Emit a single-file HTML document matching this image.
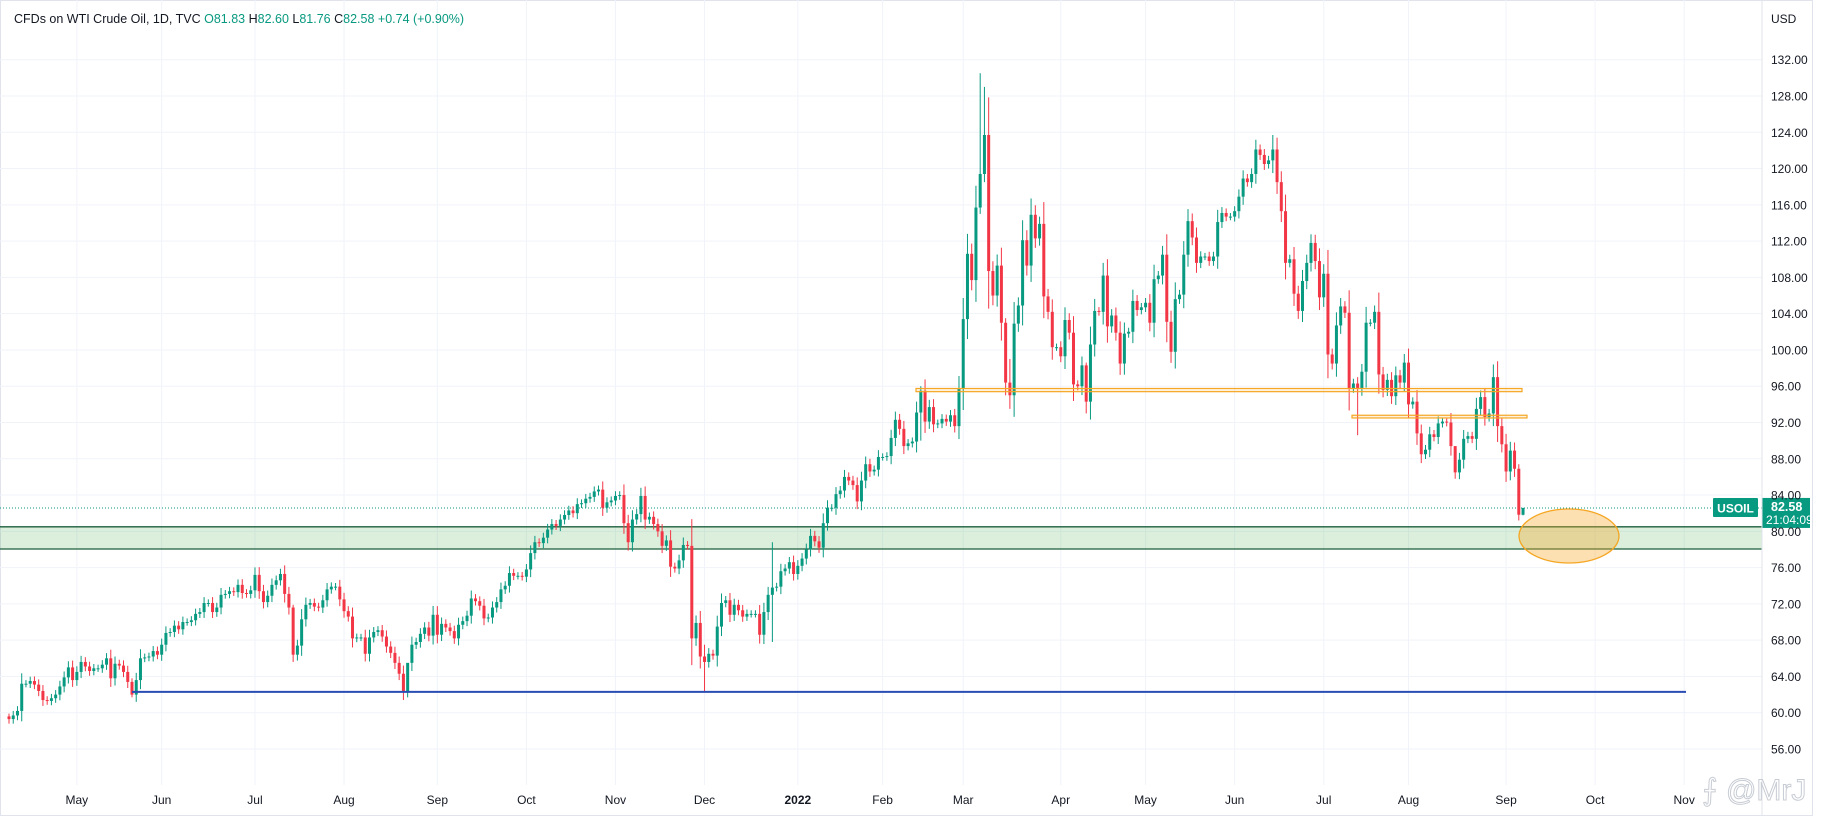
<!DOCTYPE html>
<html><head><meta charset="utf-8"><style>
html,body{margin:0;padding:0;background:#fff;}
svg{display:block;font-family:"Liberation Sans",sans-serif;}
</style></head><body>
<svg id="chart" width="1827" height="816" viewBox="0 0 1827 816">
<rect x="0.5" y="0.5" width="1812" height="815" fill="#fff" stroke="#e0e3eb"/>
<g id="grid"></g>
<g id="bands"></g>
<g id="candles"></g>
<g id="overlay"></g>
<line x1="1762" y1="0" x2="1762" y2="816" stroke="#e0e3eb"/>
<g id="yaxis"></g>
<g id="xaxis"></g>
<text x="1771" y="23" font-size="12" fill="#131722">USD</text>
<text x="14" y="23" font-size="12.5" fill="#131722">CFDs on WTI Crude Oil, 1D, TVC <tspan fill="#089981">O</tspan><tspan fill="#089981">81.83</tspan> <tspan>H</tspan><tspan fill="#089981">82.60</tspan> <tspan>L</tspan><tspan fill="#089981">81.76</tspan> <tspan>C</tspan><tspan fill="#089981">82.58 +0.74 (+0.90%)</tspan></text>
<text x="1702" y="800" font-size="30" fill="none" stroke="#c8ccd4" stroke-width="1">⨍ @MrJ</text>
</svg>
<script>
const closes = [
59.3,59.7,60.2,63.2,63.2,63.5,63.1,62.4,61.4,61.3,61.6,62.0,62.9,63.9,65.0,63.6,
64.5,65.6,65.1,64.6,64.9,64.9,65.3,66.0,63.8,65.4,65.2,64.5,63.4,62.0,63.6,66.0,66.1,66.2,66.8,66.4,
67.5,68.8,68.9,69.6,69.2,70.0,70.0,70.2,70.9,71.1,72.1,72.1,71.1,71.6,73.0,73.1,73.4,73.3,74.1,73.2,73.1,73.5,
75.2,73.4,72.2,72.9,74.1,74.6,75.3,73.1,71.6,66.4,67.4,70.3,71.9,72.1,71.7,71.6,72.4,73.6,73.9,73.9,72.5,
71.2,70.6,68.2,68.3,68.3,66.5,68.3,68.9,69.1,68.4,67.3,66.6,65.5,64.3,62.3,65.5,67.5,67.8,68.7,69.4,68.5,70.8,
68.6,69.8,69.4,69.0,68.2,69.7,70.1,70.7,72.6,72.3,71.8,70.4,70.5,71.6,72.2,73.6,74.0,75.4,75.1,75.1,75.0,
75.8,77.6,78.8,78.7,79.3,80.2,80.8,80.6,81.3,81.8,82.3,82.0,83.0,83.1,83.6,83.8,84.4,84.6,82.6,83.2,83.4,
83.9,84.0,80.9,78.8,81.3,81.9,83.9,81.3,81.6,80.8,80.0,78.4,79.0,76.1,75.9,76.8,78.5,78.4,68.2,69.9,66.2,
65.6,66.5,66.3,69.5,72.1,72.4,70.8,71.9,71.3,70.6,70.9,70.9,70.9,68.6,71.1,73.0,73.8,73.9,75.6,75.9,76.6,75.3,
76.2,77.0,78.0,79.5,78.9,78.2,80.9,82.6,82.6,84.1,84.5,86.0,85.6,85.1,83.3,85.6,87.4,86.6,86.8,88.2,
88.2,88.3,90.3,92.3,91.3,89.4,89.7,89.9,93.1,95.5,92.1,93.7,91.8,91.9,92.4,92.1,92.8,91.6,95.7,
103.4,110.6,107.7,115.7,119.4,123.7,108.7,106.0,109.3,103.0,96.4,95.0,102.9,104.9,112.1,109.3,114.9,112.3,113.9,105.9,104.2,100.3,100.3,
99.3,103.3,101.9,96.2,96.0,98.3,94.3,100.6,104.3,104.2,108.2,102.6,103.8,101.9,98.5,101.8,102.0,105.4,104.4,104.7,
105.2,103.0,107.8,108.2,110.5,103.1,99.8,105.6,106.1,110.5,114.2,112.4,109.6,110.3,110.3,109.8,110.3,114.1,115.1,114.7,114.7,
115.3,116.9,118.9,118.5,119.4,122.1,121.5,120.5,120.9,122.1,118.5,115.3,109.6,110.0,106.2,104.3,107.6,109.6,111.8,109.8,105.8,
108.4,99.5,98.5,102.7,104.8,104.1,95.8,96.3,95.8,97.6,103.0,103.0,104.2,97.3,95.6,96.7,94.9,97.2,96.4,98.6,
94.0,94.3,90.8,88.5,89.0,90.7,90.4,91.9,92.1,92.0,89.4,86.5,87.9,90.2,90.5,90.2,93.5,94.8,92.6,93.0,97.0,91.6,89.6,
86.6,88.9,86.9,81.83,82.58
];
const firstOpen = 59.6;
const wickOverrides = {0:[59.9,58.8],29:[63.8,61.7],67:[71.9,65.6],94:[64.6,61.7],164:[67.5,62.4],180:[78.8,67.8],215:[96.0,90.0],229:[130.5,115.0],230:[129.0,118.5],235:[103.5,95.0],236:[99.0,93.5],254:[98.6,93.0],298:[123.7,119.5],318:[97.0,90.6],341:[88.0,85.8],356:[87.4,81.2],357:[82.6,81.76]};
const priceTicks = [56,60,64,68,72,76,80,84,88,92,96,100,104,108,112,116,120,124,128,132];
const monthLabels = ["May","Jun","Jul","Aug","Sep","Oct","Nov","Dec","2022","Feb","Mar","Apr","May","Jun","Jul","Aug","Sep","Oct","Nov"];
const monthStartBars = [16,36,58,79,101,122,143,164,186,206,225,248,268,289,310,330,353,374,395];
const lastPrice = 82.58;
const bandTop = 80.5, bandBottom = 78.05;
const supportLevel = 62.3;
const zoneA = [95.75,95.4], zoneB = [92.8,92.5];

const NS="http://www.w3.org/2000/svg";
const X0=9, STEP=4.241;
function xOf(i){return X0+i*STEP;}
function yOf(p){return 59.7+(132-p)*9.07;}
function mk(tag,attrs,parent){const e=document.createElementNS(NS,tag);for(const k in attrs)e.setAttribute(k,attrs[k]);parent.appendChild(e);return e;}
const grid=document.getElementById('grid'),bands=document.getElementById('bands'),cg=document.getElementById('candles'),ov=document.getElementById('overlay'),ya=document.getElementById('yaxis'),xa=document.getElementById('xaxis');

priceTicks.forEach(p=>{
  const y=yOf(p);
  const l=mk('line',{x1:0,x2:1762,y1:y,y2:y,stroke:'#f0f3fa'},grid);
  
  
  const t=mk('text',{x:1771,y:y+4.5,'font-size':12,fill:'#131722'},ya);
  t.textContent=p.toFixed(2);
  
  
});
monthLabels.forEach((m,k)=>{
  const x=xOf(monthStartBars[k]);
  const l=mk('line',{x1:x,x2:x,y1:0,y2:785,stroke:'#f0f3fa'},grid);
  
  
  const t=mk('text',{x:x,y:804,'font-size':12,fill:'#131722','text-anchor':'middle','font-weight':m==='2022'?'bold':'normal'},xa);
  t.textContent=m;
  
  
});

const b=mk('rect',{x:0,y:yOf(bandTop),width:1762,height:yOf(bandBottom)-yOf(bandTop),fill:'rgba(76,175,80,0.2)'},bands);


[bandTop,bandBottom].forEach(p=>{
  const l=mk('line',{x1:0,x2:1762,y1:yOf(p),y2:yOf(p),stroke:'#1b5e3b','stroke-width':1.3},bands);
  
  
});
const dl=mk('line',{x1:0,x2:1762,y1:yOf(lastPrice),y2:yOf(lastPrice),stroke:'#089981','stroke-dasharray':'1 2'},bands);



let prev=firstOpen;
closes.forEach((c,i)=>{
  const o=prev; prev=c;
  let hi=Math.max(o,c)+0.4+Math.abs(c-o)*0.25, lo=Math.min(o,c)-0.4-Math.abs(c-o)*0.25;
  if(wickOverrides[i]){hi=wickOverrides[i][0];lo=wickOverrides[i][1];}
  const col=c>=o?'#089981':'#f23645';
  const x=xOf(i);
  const g=mk('g',{},cg);
  
  
  mk('line',{x1:x,x2:x,y1:yOf(hi),y2:yOf(lo),stroke:col,'stroke-width':1},g);
  const yt=yOf(Math.max(o,c)),yb=yOf(Math.min(o,c));
  mk('rect',{x:x-1.5,y:yt,width:3,height:Math.max(1,yb-yt),fill:col},g);
});

const sl=mk('line',{x1:xOf(29),x2:1686,y1:yOf(supportLevel),y2:yOf(supportLevel),stroke:'#2a4db3','stroke-width':2},ov);


const za=mk('rect',{x:916,y:yOf(zoneA[0]),width:606,height:yOf(zoneA[1])-yOf(zoneA[0]),fill:'rgba(245,166,35,0.15)',stroke:'#f5a623','stroke-width':1.2},ov);


const zb=mk('rect',{x:1352,y:yOf(zoneB[0]),width:175,height:yOf(zoneB[1])-yOf(zoneB[0]),fill:'rgba(245,166,35,0.15)',stroke:'#f5a623','stroke-width':1.2},ov);


const el=mk('ellipse',{cx:1569,cy:536,rx:50,ry:27,fill:'rgba(245,166,35,0.35)',stroke:'#f5a623','stroke-width':1.3},ov);



const ly=yOf(lastPrice);
const tag=mk('rect',{x:1713,y:ly-10,width:45,height:19,fill:'#089981',rx:1},ov);


const tt=mk('text',{x:1735.5,y:ly+4.5,'font-size':12,fill:'#fff','text-anchor':'middle','font-weight':'bold'},ov);
tt.textContent='USOIL';


const pb=mk('rect',{x:1762,y:ly-10,width:48,height:30,fill:'#089981'},ov);


const pt=mk('text',{x:1771,y:ly+3,'font-size':12.5,fill:'#fff','font-weight':'bold'},ov);
pt.textContent=lastPrice.toFixed(2);


const ct=mk('text',{x:1766,y:ly+16,'font-size':12,fill:'#fff'},ov);
ct.textContent='21:04:09';


</script>
</body></html>
